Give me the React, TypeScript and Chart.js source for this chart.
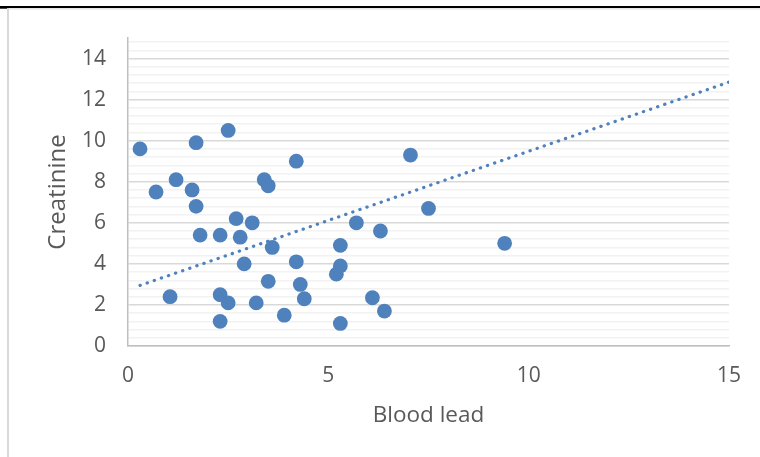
import React, { useEffect, useRef } from "react";
import { Chart, registerables } from "chart.js";

Chart.register(...registerables);

const bloodLead = [0.3, 0.7, 1.2, 1.6, 1.7, 1.7, 2.5, 2.7, 3.1, 3.4, 3.5, 4.2, 7.05, 7.5, 6.3, 5.7, 1.8, 2.3, 2.8, 3.6, 2.9, 4.2, 5.3, 5.3, 5.2, 3.5, 4.3, 1.05, 2.3, 2.5, 3.2, 4.4, 3.9, 2.3, 5.3, 6.1, 6.4, 9.4];
const creatinine = [9.6, 7.5, 8.1, 7.6, 9.9, 6.8, 10.5, 6.2, 6.0, 8.1, 7.8, 9.0, 9.3, 6.7, 5.6, 6.0, 5.4, 5.4, 5.3, 4.8, 4.0, 4.1, 4.9, 3.9, 3.5, 3.15, 3.0, 2.4, 2.5, 2.1, 2.1, 2.3, 1.5, 1.2, 1.1, 2.35, 1.7, 5.0];
const trendX = [0.3, 15];
const trendY = [2.95, 12.85];
const xTickValues = [0, 5, 10, 15];
const yMajorTicks = [0, 2, 4, 6, 8, 10, 12, 14];
const yMinorStep = 0.4;
const yMinorCount = 38;

const isMajor = (v: number) => yMajorTicks.some((m) => Math.abs(m - v) < 1e-6);

export default function App() {
  const ref = useRef<HTMLCanvasElement>(null);
  useEffect(() => {
    if (!ref.current) return;
    const framePlugin = {
      id: "frame",
      beforeDraw(chart: any) {
        const c = chart.ctx;
        c.save();
        c.fillStyle = "#ffffff";
        c.fillRect(0, 0, chart.width, chart.height);
        c.fillStyle = "#e6e6e6";
        c.fillRect(7, 8, chart.width - 7, 1.5);
        c.fillStyle = "#d9d9d9";
        c.fillRect(7, 8, 2, chart.height - 8);
        c.fillStyle = "#000000";
        c.fillRect(0, 6, chart.width, 2);
        c.fillRect(0, 6, 7, 2.7);
        c.restore();
      },
    };
    const font = "'Open Sans', sans-serif";
    const chart = new Chart(ref.current, {
      type: "scatter",
      data: {
        datasets: [
          {
            type: "line",
            label: "Trend",
            data: trendX.map((x, i) => ({ x, y: trendY[i] })),
            showLine: true,
            borderColor: "#4F81BD",
            borderWidth: 3.2,
            borderDash: [0.3, 7.2],
            borderCapStyle: "round",
            pointRadius: 0,
            fill: false,
            order: 0,
          } as any,
          {
            label: "Creatinine",
            data: bloodLead.map((x, i) => ({ x, y: creatinine[i] })),
            backgroundColor: "#4F81BD",
            borderColor: "#4F81BD",
            borderWidth: 0,
            pointRadius: 7.4,
            pointHoverRadius: 7.4,
            order: 1,
          },
        ],
      },
      options: {
        responsive: false,
        animation: false,
        events: [],
        layout: { padding: { top: 38, right: 31, left: 10, bottom: 0 } },
        plugins: { legend: { display: false }, tooltip: { enabled: false } },
        scales: {
          x: {
            type: "linear",
            min: 0,
            max: 15,
            afterBuildTicks: (s: any) => {
              s.ticks = xTickValues.map((v) => ({ value: v }));
            },
            afterFit: (s: any) => {
              s.height = 111;
            },
            grid: { display: true, color: "rgba(0,0,0,0)", drawTicks: false },
            border: { display: true, color: "#bfbfbf", width: 1.5 },
            ticks: {
              color: "#595959",
              font: { family: font, size: 21 },
              padding: 17,
              autoSkip: false,
              maxRotation: 0,
            },
            title: {
              display: true,
              text: "Blood lead",
              color: "#595959",
              font: { family: font, size: 22.5 },
              padding: { top: 0, bottom: 28 },
            },
          },
          y: {
            type: "linear",
            min: 0,
            max: 15,
            afterBuildTicks: (s: any) => {
              const t = [];
              for (let k = 0; k < yMinorCount; k++) t.push({ value: Math.round(k * yMinorStep * 10) / 10 });
              s.ticks = t;
            },
            afterFit: (s: any) => {
              s.width = 118;
            },
            grid: {
              drawTicks: false,
              color: (ctx: any) => (ctx.tick && isMajor(ctx.tick.value) ? "#d9d9d9" : "#f2f2f2"),
              lineWidth: 1.5,
            },
            border: { display: true, color: "#bfbfbf", width: 1.5 },
            ticks: {
              color: "#595959",
              font: { family: font, size: 21 },
              padding: 22,
              autoSkip: false,
              callback: (v: any) => (isMajor(Number(v)) ? String(Math.round(Number(v))) : ""),
            },
            title: {
              display: true,
              text: "Creatinine",
              color: "#595959",
              font: { family: font, size: 24 },
              padding: { top: 34, bottom: 0 },
            },
          },
        },
      },
      plugins: [framePlugin],
    });
    return () => chart.destroy();
  }, []);
  return (
    <div style={{ position: "fixed", left: 0, top: 0, width: 760, height: 457, background: "#fff" }}>
      <canvas ref={ref} width={760} height={457} style={{ display: "block", width: 760, height: 457 }} />
    </div>
  );
}
